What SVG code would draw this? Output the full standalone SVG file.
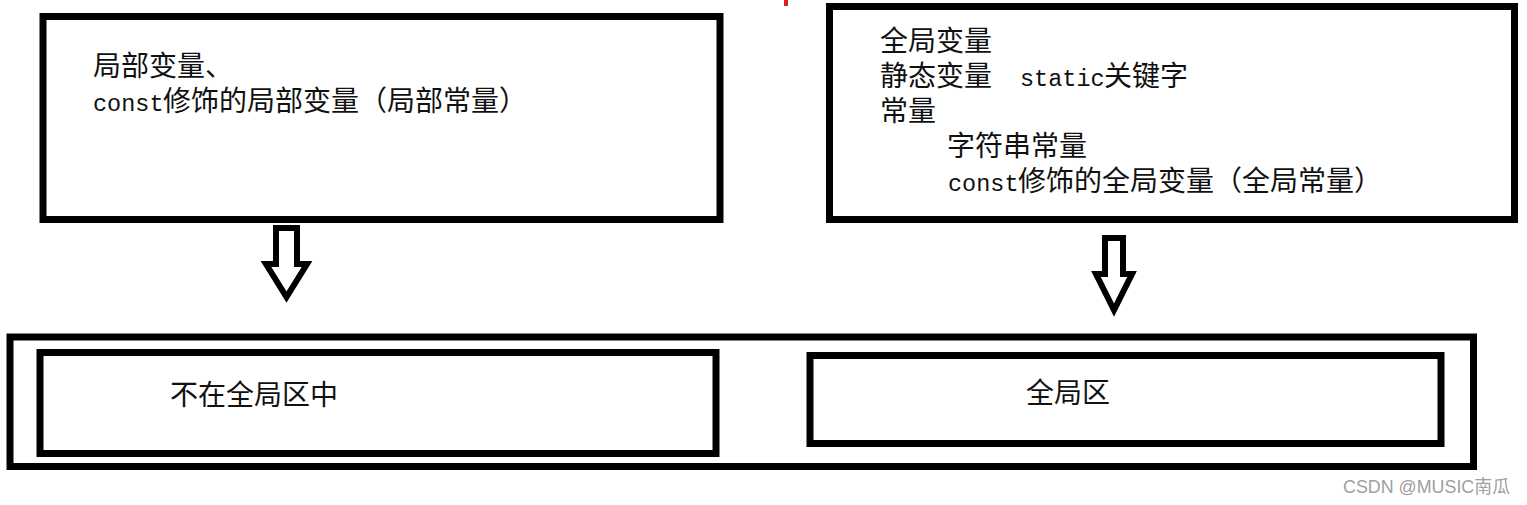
<svg xmlns="http://www.w3.org/2000/svg" width="1527" height="505" viewBox="0 0 1527 505">
  <style>
    .box { fill: #ffffff; stroke: #000000; stroke-width: 7; }
    .arrow { fill: #ffffff; stroke: #000000; stroke-width: 6; stroke-linejoin: miter; }
    .t { font-family: "Noto Sans CJK SC", "Noto Sans", sans-serif; font-size: 28px; fill: #111111; }
    .m { font-family: "Liberation Mono", "DejaVu Sans Mono", monospace; font-size: 23.5px; fill: #111111; }
    .wm { font-family: "Liberation Sans", "Noto Sans CJK SC", sans-serif; font-size: 18px; fill: #a0a0a0; }
  </style>
  <rect x="0" y="0" width="1527" height="505" fill="#ffffff"/>
  <rect x="784" y="0" width="4" height="6" fill="#e02020"/>

  <g id="node-local">
    <rect class="box" x="43" y="16.5" width="677" height="203"/>
    <text class="t" x="93" y="76">局部变量、</text>
    <text y="111"><tspan class="m" x="93">const</tspan><tspan class="t" x="163">修饰的局部变量（局部常量）</tspan></text>
  </g>

  <g id="node-global">
    <rect class="box" x="829.5" y="6.5" width="685" height="213"/>
    <text class="t" x="880" y="51">全局变量</text>
    <text y="86"><tspan class="t" x="880">静态变量</tspan><tspan class="m" x="1020">static</tspan><tspan class="t" x="1104">关键字</tspan></text>
    <text class="t" x="880" y="121">常量</text>
    <text class="t" x="947" y="156">字符串常量</text>
    <text y="191"><tspan class="m" x="948">const</tspan><tspan class="t" x="1018">修饰的全局变量（全局常量）</tspan></text>
  </g>

  <g id="node-memory">
    <rect class="box" x="10" y="337" width="1463.5" height="129.5"/>
  </g>

  <g id="node-not-global">
    <rect class="box" x="40" y="352.5" width="676" height="101"/>
    <text class="t" x="170" y="405">不在全局区中</text>
  </g>

  <g id="node-global-area">
    <rect class="box" x="810" y="355.5" width="631" height="88"/>
    <text class="t" x="1026" y="403">全局区</text>
  </g>

  <g id="connectors">
    <polygon class="arrow" points="276,228 297,228 297,264 307,264 286.5,297 266,264 276,264"/>
    <polygon class="arrow" points="1105,238 1123,238 1123,274 1132,274 1114,310 1096,274 1105,274"/>
  </g>

  <text class="wm" x="1343" y="493" textLength="167" lengthAdjust="spacingAndGlyphs">CSDN @MUSIC南瓜</text>
</svg>
